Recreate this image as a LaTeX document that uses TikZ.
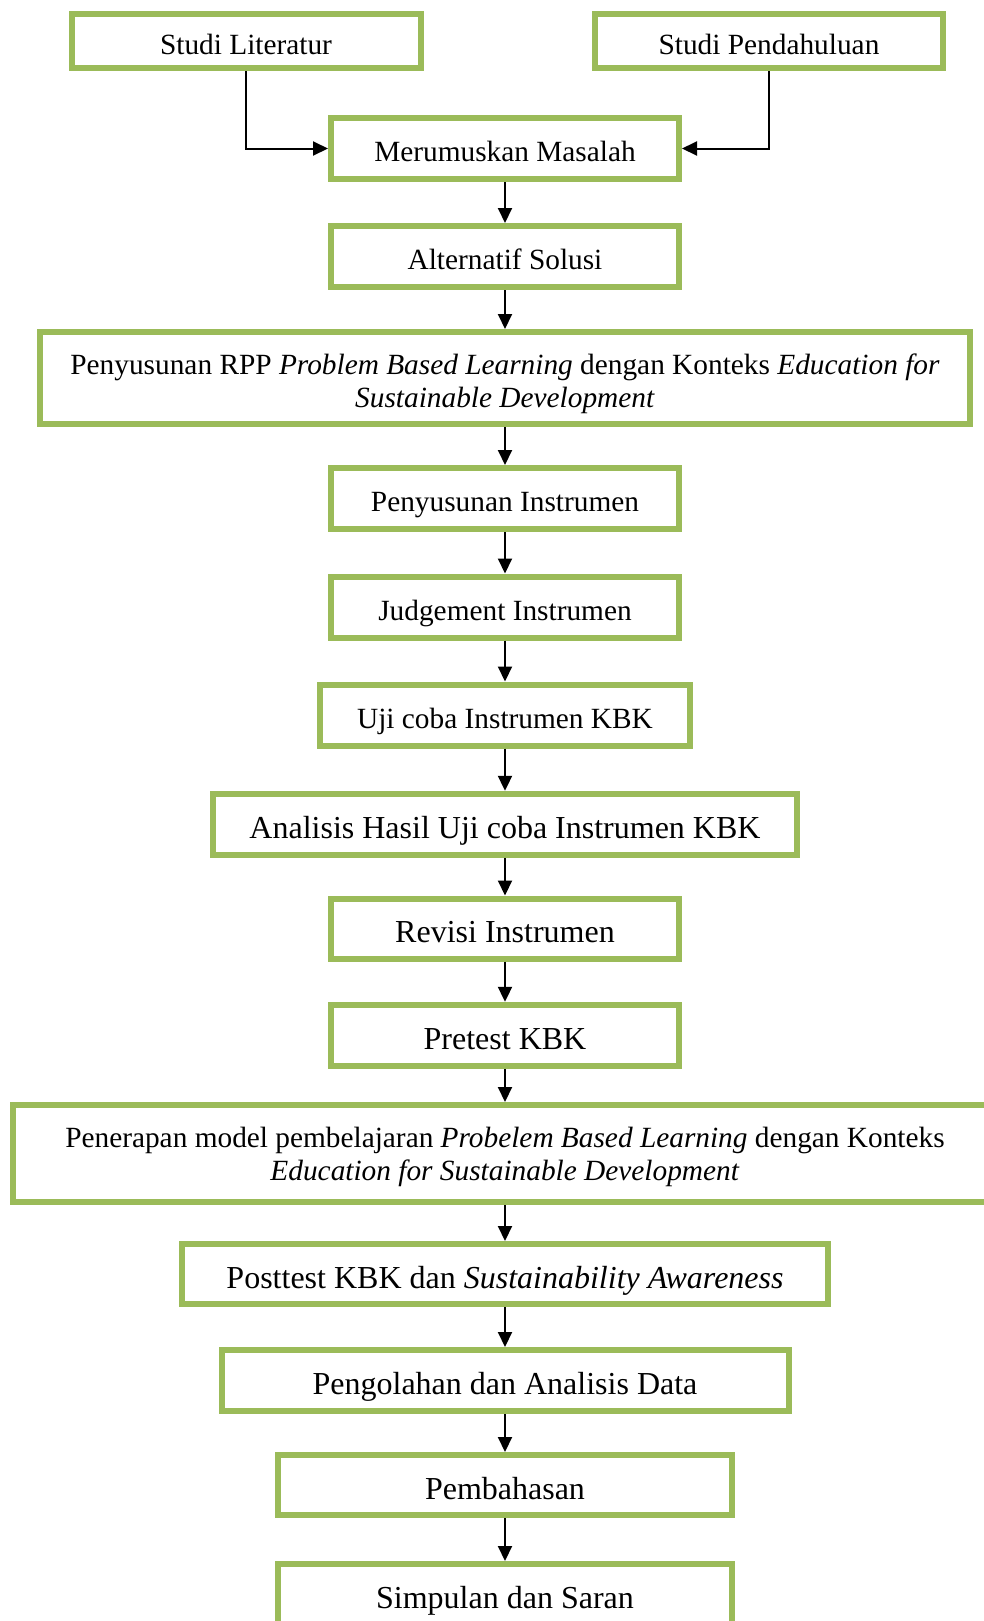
\documentclass[tikz,border=0pt]{standalone}
\usepackage{fontspec}
\setmainfont{Liberation Serif}
\usetikzlibrary{arrows.meta}
\definecolor{boxgreen}{HTML}{9BBB59}
\begin{document}
\begin{tikzpicture}[x=0.75pt,y=-0.75pt,
  frame/.style 2 args={draw=boxgreen, line width=4.5pt, fill=white, align=center,
    inner sep=0pt, minimum width={(#1-6)*0.75pt}, minimum height={(#2-6)*0.75pt},
    font=\fontsize{22}{25}\selectfont},
  box/.style 2 args={frame={#1}{#2}, text height=25pt, text depth=5.5pt},
  big/.style={font=\fontsize{24}{27}\selectfont, text height=27pt, text depth=6pt},
  txt/.style={align=center, inner sep=0pt, font=\fontsize{22}{25}\selectfont},
  arr/.style={-{Triangle[length=11.25pt,width=10.5pt]}, line width=1.5pt, black}]
\useasboundingbox (0,0) rectangle (984,1621);
\fill[white] (0,0) rectangle (984,1621);

\node[box={355}{60}] (lit) at (246,41) {Studi Literatur};
\node[box={354}{60}] (pend) at (769,41) {Studi Pendahuluan};
\node[box={354}{67}] (meru) at (505,148.5) {Merumuskan Masalah};
\node[box={354}{67}] (alt) at (505,256.5) {Alternatif Solusi};
\node[frame={936}{98}] (rpp) at (505,378) {};
\node[txt] (rpptxt) at (505,384) {Penyusunan RPP \textit{Problem Based Learning} dengan Konteks \textit{Education for}\\\textit{Sustainable Development}};
\node[box={354}{67}] (pin) at (505,498.5) {Penyusunan Instrumen};
\node[box={354}{67}] (jud) at (505,607) {Judgement Instrumen};
\node[box={376}{67}] (uji) at (505,715) {Uji coba Instrumen KBK};
\node[box={590}{67},big] (ana) at (505,824.3) {Analisis Hasil Uji coba Instrumen KBK};
\node[box={354}{66},big] (rev) at (505,928.5) {Revisi Instrumen};
\node[box={354}{67},big] (pre) at (505,1035.3) {Pretest KBK};
\node[frame={991}{103}] (pen) at (505,1153.5) {};
\node[txt] (pentxt) at (505,1157) {Penerapan model pembelajaran \textit{Probelem Based Learning} dengan Konteks\\\textit{Education for Sustainable Development}};
\node[box={652}{66},big] (post) at (505,1274) {Posttest KBK dan \textit{Sustainability Awareness}};
\node[box={573}{67},big] (peng) at (505,1380.5) {Pengolahan dan Analisis Data};
\node[box={460}{66},big] (pemb) at (505,1485) {Pembahasan};
\node[box={460}{66},big] (simp) at (505,1594) {Simpulan dan Saran};

\draw[arr] (lit.south) |- (meru.west);
\draw[arr] (pend.south) |- (meru.east);
\foreach \a/\b in {meru/alt, alt/rpp, rpp/pin, pin/jud, jud/uji, uji/ana, ana/rev,
  rev/pre, pre/pen, pen/post, post/peng, peng/pemb, pemb/simp}
  \draw[arr] (\a) -- (\b);
\end{tikzpicture}
\end{document}
